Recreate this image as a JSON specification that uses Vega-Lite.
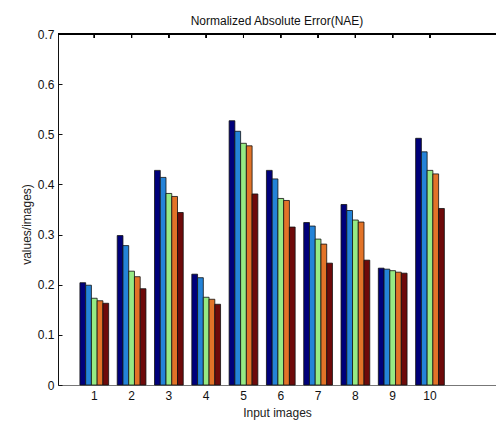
{
  "$schema": "https://vega.github.io/schema/vega-lite/v6.json",
  "autosize": {"type": "none"},
  "padding": {"left": 58, "top": 34, "right": 0, "bottom": 37},
  "width": 438,
  "height": 351,
  "background": "white",
  "title": {"text": "Normalized Absolute Error(NAE)", "font": "Liberation Sans", "fontSize": 12, "fontWeight": "normal", "color": "#111", "anchor": "middle", "offset": 0, "frame": "group"},
  "config": {
    "view": {"stroke": null},
    "axis": {"labelFont": "Liberation Sans", "titleFont": "Liberation Sans", "labelFontSize": 12, "titleFontSize": 12, "titleFontWeight": "normal", "labelColor": "#111", "titleColor": "#222", "grid": false, "tickColor": "#111", "domainColor": "#111"}
  },
  "data": {"values": [
    {"image": "1", "series": "A", "value": 0.204},
    {"image": "1", "series": "B", "value": 0.199},
    {"image": "1", "series": "C", "value": 0.173},
    {"image": "1", "series": "D", "value": 0.168},
    {"image": "1", "series": "E", "value": 0.163},
    {"image": "2", "series": "A", "value": 0.298},
    {"image": "2", "series": "B", "value": 0.278},
    {"image": "2", "series": "C", "value": 0.227},
    {"image": "2", "series": "D", "value": 0.216},
    {"image": "2", "series": "E", "value": 0.192},
    {"image": "3", "series": "A", "value": 0.428},
    {"image": "3", "series": "B", "value": 0.414},
    {"image": "3", "series": "C", "value": 0.382},
    {"image": "3", "series": "D", "value": 0.376},
    {"image": "3", "series": "E", "value": 0.344},
    {"image": "4", "series": "A", "value": 0.221},
    {"image": "4", "series": "B", "value": 0.214},
    {"image": "4", "series": "C", "value": 0.175},
    {"image": "4", "series": "D", "value": 0.171},
    {"image": "4", "series": "E", "value": 0.161},
    {"image": "5", "series": "A", "value": 0.527},
    {"image": "5", "series": "B", "value": 0.506},
    {"image": "5", "series": "C", "value": 0.482},
    {"image": "5", "series": "D", "value": 0.477},
    {"image": "5", "series": "E", "value": 0.381},
    {"image": "6", "series": "A", "value": 0.428},
    {"image": "6", "series": "B", "value": 0.411},
    {"image": "6", "series": "C", "value": 0.372},
    {"image": "6", "series": "D", "value": 0.368},
    {"image": "6", "series": "E", "value": 0.315},
    {"image": "7", "series": "A", "value": 0.324},
    {"image": "7", "series": "B", "value": 0.317},
    {"image": "7", "series": "C", "value": 0.291},
    {"image": "7", "series": "D", "value": 0.281},
    {"image": "7", "series": "E", "value": 0.243},
    {"image": "8", "series": "A", "value": 0.360},
    {"image": "8", "series": "B", "value": 0.348},
    {"image": "8", "series": "C", "value": 0.329},
    {"image": "8", "series": "D", "value": 0.325},
    {"image": "8", "series": "E", "value": 0.249},
    {"image": "9", "series": "A", "value": 0.233},
    {"image": "9", "series": "B", "value": 0.231},
    {"image": "9", "series": "C", "value": 0.228},
    {"image": "9", "series": "D", "value": 0.225},
    {"image": "9", "series": "E", "value": 0.223},
    {"image": "10", "series": "A", "value": 0.492},
    {"image": "10", "series": "B", "value": 0.465},
    {"image": "10", "series": "C", "value": 0.428},
    {"image": "10", "series": "D", "value": 0.421},
    {"image": "10", "series": "E", "value": 0.352}
  ]},
  "layer": [
    {
      "mark": {"type": "bar", "stroke": "#111", "strokeWidth": 0.8},
      "encoding": {
        "x": {"field": "image", "type": "ordinal", "sort": ["1","2","3","4","5","6","7","8","9","10"],
          "scale": {"paddingInner": 0.23, "paddingOuter": 0.986, "align": 0.298},
          "axis": {"orient": "bottom", "labelAngle": 0, "tickSize": -4, "labelPadding": 9, "title": "Input images", "titlePadding": 6, "domainColor": "#777"}},
        "y": {"field": "value", "type": "quantitative", "scale": {"domain": [0, 0.7], "nice": false},
          "axis": {"orient": "left", "values": [0, 0.1, 0.2, 0.3, 0.4, 0.5, 0.6, 0.7], "format": "~g", "tickSize": -4, "labelPadding": 8, "title": "values/images)", "titleY": 190, "titlePadding": 4}},
        "xOffset": {"field": "series", "type": "nominal", "scale": {"paddingInner": 0, "paddingOuter": 0}},
        "color": {"field": "series", "type": "nominal", "legend": null,
          "scale": {"domain": ["A","B","C","D","E"], "range": ["#00007a", "#2483d8", "#96ea84", "#e27328", "#6e0a0a"]}}
      }
    },
    {
      "mark": {"type": "rule", "color": "#000", "strokeWidth": 1.2},
      "encoding": {"y": {"datum": 0.6995}}
    },
    {
      "mark": {"type": "rule", "color": "#000", "strokeWidth": 1},
      "encoding": {
        "x": {"field": "image", "type": "ordinal", "sort": ["1","2","3","4","5","6","7","8","9","10"]},
        "y": {"datum": 0.7},
        "y2": {"datum": 0.692}
      }
    }
  ]
}
